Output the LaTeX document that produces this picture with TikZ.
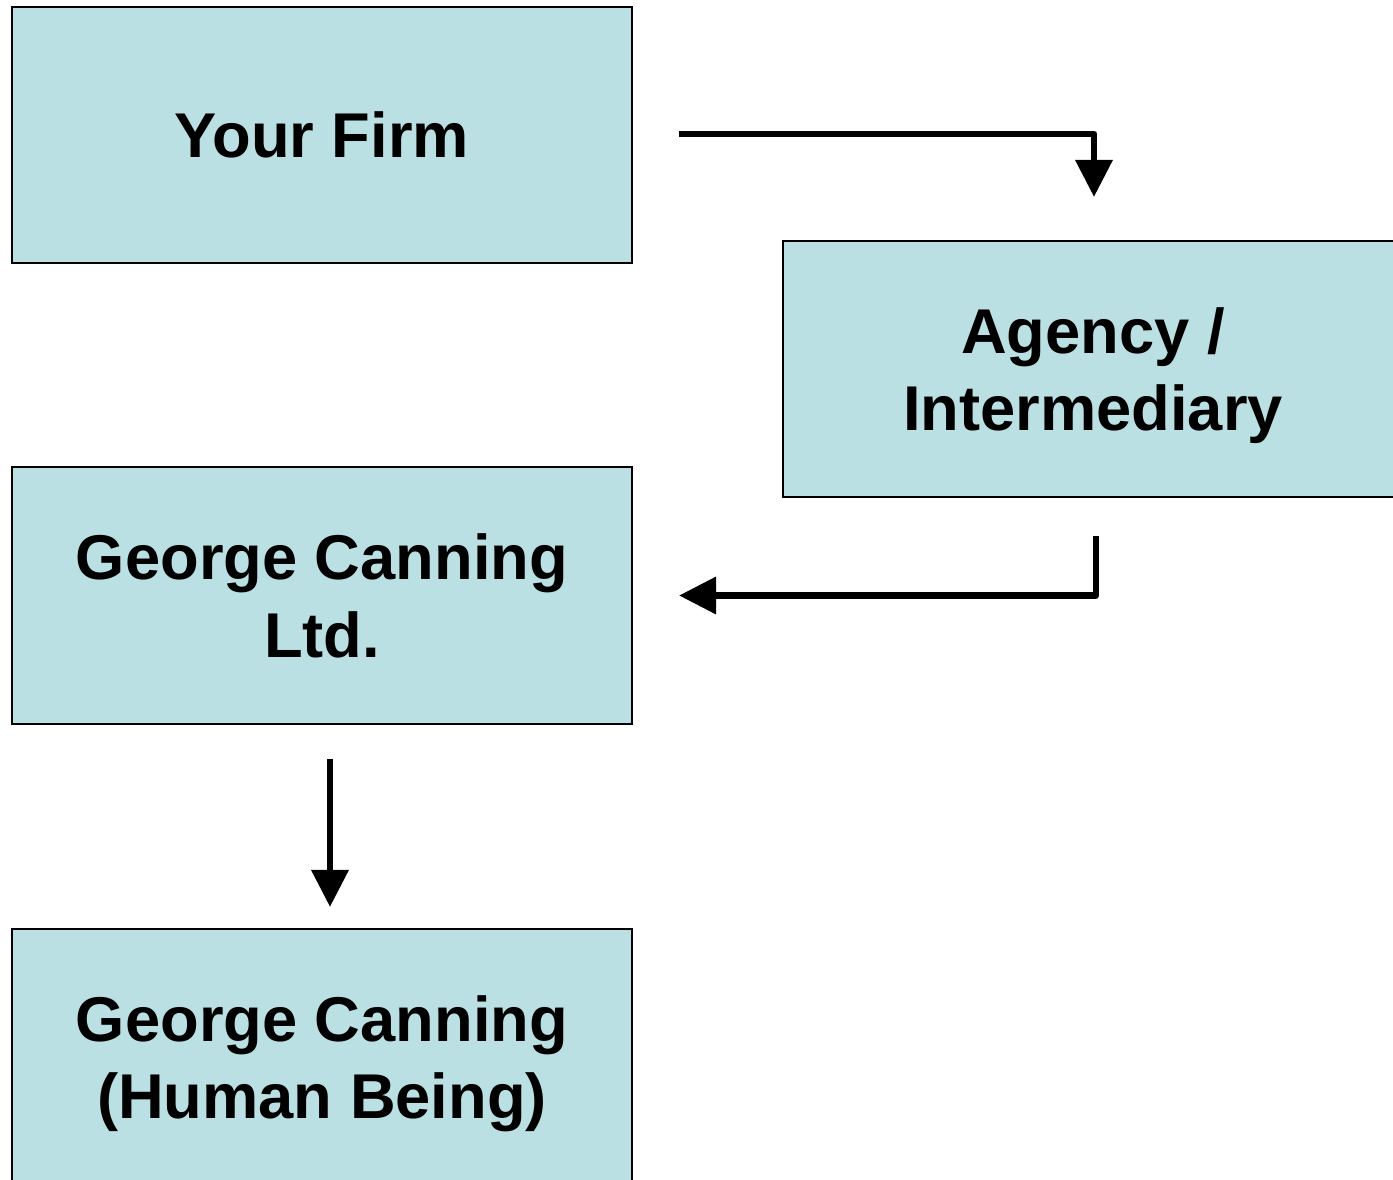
\documentclass[tikz,border=0pt]{standalone}
\usepackage{fontspec}
\setmainfont{Liberation Sans}
\usepackage{tikz}
\usetikzlibrary{arrows.meta,positioning,calc}
\definecolor{gcFill}{HTML}{BBE0E3}
\definecolor{gcInk}{HTML}{000000}
\tikzset{
  % Entity box (light teal)
  ebox/.style={rectangle,draw=gcInk,line width=0.6pt,fill=gcFill,
    minimum width=6.2cm,minimum height=2.56cm,inner sep=0pt,
    text depth=0pt,
    align=center,font=\fontsize{18}{22}\selectfont\bfseries,text=gcInk},
  % Elbow arrows
  arr/.style={-{Triangle[length=0.37cm,width=0.36cm]},line width=1.9pt,
    line join=round,color=gcInk},
}
\begin{document}
\begin{tikzpicture}
  \clip (0,0) rectangle (13.93,-11.80);
  \fill[white] (0,0) rectangle (13.93,-11.80);

  \node[ebox] (firm) at (3.22,-1.35) {Your Firm};
  \node[ebox] (agency) at (10.93,-3.69) {Agency /\\Intermediary};
  \node[ebox,minimum height=2.57cm] (ltd) at (3.22,-5.955)
    {George Canning\\Ltd.};
  \node[ebox] (human) at (3.22,-10.57)
    {George Canning\\(Human Being)};

  \draw[arr] ([xshift=0.46cm,yshift=0.01cm]firm.east)
    -| ([xshift=0.01cm,yshift=0.43cm]agency.north);
  \draw[arr] ([xshift=0.03cm,yshift=-0.38cm]agency.south)
    |- ([xshift=0.46cm]ltd.east);
  \draw[arr] ([xshift=0.08cm,yshift=-0.34cm]ltd.south)
    -- ([xshift=0.08cm,yshift=0.21cm]human.north);
\end{tikzpicture}
\end{document}
